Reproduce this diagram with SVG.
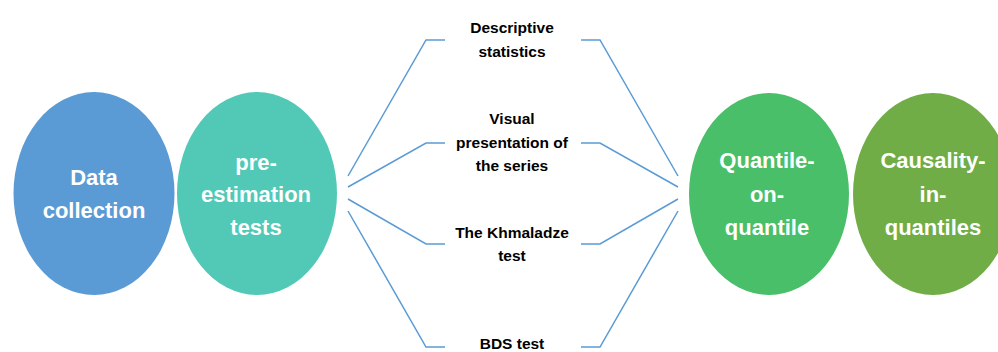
<svg xmlns="http://www.w3.org/2000/svg" width="998" height="352" viewBox="0 0 998 352">
<style>
.big{font-family:"Liberation Sans",Arial,sans-serif;font-weight:bold;font-size:22px;fill:#fff;text-anchor:middle}
.lab{font-family:"Liberation Sans",Arial,sans-serif;font-weight:bold;font-size:15.5px;fill:#000;text-anchor:middle}
.con{fill:none;stroke:#5B9BD5;stroke-width:1.5}
</style>
<rect width="998" height="352" fill="#fff"/>
<g id="connectors">
<polyline class="con" points="348,176 426,40 445,40"/>
<polyline class="con" points="348,187 426,143 445,143"/>
<polyline class="con" points="348,199 426,244 445,244"/>
<polyline class="con" points="348,211 426,347 445,347"/>
<polyline class="con" points="581,40 600,40 678,176"/>
<polyline class="con" points="581,143 600,143 678,187"/>
<polyline class="con" points="581,244 600,244 678,199"/>
<polyline class="con" points="581,347 600,347 678,211"/>
</g>
<g id="data-collection">
<ellipse cx="94" cy="193.5" rx="80.5" ry="101.5" fill="#5B9BD5"/>
<text class="big" x="94" y="185">Data</text>
<text class="big" x="94" y="218">collection</text>
</g>
<g id="pre-estimation">
<ellipse cx="257" cy="193.5" rx="80" ry="101.5" fill="#52C9B6"/>
<text class="big" x="256" y="170">pre-</text>
<text class="big" x="256" y="202">estimation</text>
<text class="big" x="256" y="235">tests</text>
</g>
<g id="descriptive">
<text class="lab" x="512" y="33">Descriptive</text>
<text class="lab" x="512" y="57">statistics</text>
</g>
<g id="visual">
<text class="lab" x="512" y="124">Visual</text>
<text class="lab" x="512" y="148">presentation of</text>
<text class="lab" x="512" y="171">the series</text>
</g>
<g id="khmaladze">
<text class="lab" x="512" y="238">The Khmaladze</text>
<text class="lab" x="512" y="261">test</text>
</g>
<g id="bds">
<text class="lab" x="512" y="349">BDS test</text>
</g>
<g id="quantile-on-quantile">
<ellipse cx="769" cy="194" rx="80" ry="101" fill="#48BF68"/>
<text class="big" x="767" y="168">Quantile-</text>
<text class="big" x="767" y="202">on-</text>
<text class="big" x="767" y="235">quantile</text>
</g>
<g id="causality-in-quantiles">
<ellipse cx="933" cy="194" rx="80" ry="101" fill="#70AD47"/>
<text class="big" x="933" y="168">Causality-</text>
<text class="big" x="933" y="202">in-</text>
<text class="big" x="933" y="235">quantiles</text>
</g>
</svg>
